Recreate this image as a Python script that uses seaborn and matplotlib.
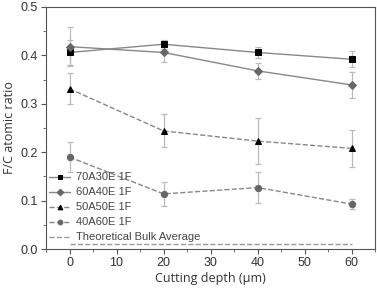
import numpy as np
import pandas as pd
import matplotlib
matplotlib.use("Agg")
import matplotlib.pyplot as plt
import seaborn as sns
from matplotlib.ticker import MultipleLocator

# data
depth = [0, 20, 40, 60]
labels = ["70A30E 1F", "60A40E 1F", "50A50E 1F", "40A60E 1F"]
ratio_70 = [0.406, 0.423, 0.406, 0.392]
err_70 = [0.025, 0.009, 0.012, 0.016]
ratio_60 = [0.418, 0.406, 0.368, 0.339]
err_60 = [0.040, 0.020, 0.016, 0.026]
ratio_50 = [0.331, 0.244, 0.223, 0.208]
err_50 = [0.032, 0.034, 0.047, 0.038]
ratio_40 = [0.190, 0.114, 0.127, 0.093]
err_40 = [0.031, 0.025, 0.032, 0.011]
bulk_x = [0, 60]
bulk_y = [0.011, 0.011]

sns.set_style("ticks")
plt.rcParams['font.family'] = ['Liberation Sans', 'DejaVu Sans']

fig = plt.figure(figsize=(3.77, 2.89), dpi=100)
ax = fig.add_axes([0.122, 0.138, 0.873, 0.838])

series = [
    (labels[0], ratio_70, err_70, "s", "black", "-"),
    (labels[1], ratio_60, err_60, "D", "#666666", "-"),
    (labels[2], ratio_50, err_50, "^", "black", "--"),
    (labels[3], ratio_40, err_40, "o", "#666666", "--"),
]

for name, vals, errs, mk, mcol, ls in series:
    df = pd.DataFrame({"depth": depth, "ratio": vals})
    ax.errorbar(depth, vals, yerr=errs, fmt="none", ecolor="#bbbbbb",
                elinewidth=0.9, capsize=2.5, capthick=0.9, zorder=1)
    sns.lineplot(data=df, x="depth", y="ratio", ax=ax, color="#888888",
                 linestyle=ls, linewidth=1.0, marker=mk, markersize=4.5,
                 markerfacecolor=mcol, markeredgecolor=mcol, label=name, zorder=3)

sns.lineplot(x=bulk_x, y=bulk_y, ax=ax, color="#999999", linestyle="--",
             linewidth=1.0, label="Theoretical Bulk Average")

ax.set_xlim(-5, 65)
ax.set_ylim(0, 0.5)
ax.xaxis.set_major_locator(MultipleLocator(10))
ax.xaxis.set_minor_locator(MultipleLocator(5))
ax.yaxis.set_major_locator(MultipleLocator(0.1))
ax.yaxis.set_minor_locator(MultipleLocator(0.05))
ax.tick_params(which="major", direction="out", length=3.5, width=0.8,
               labelsize=9, colors="#555555", labelcolor="#333333", pad=2.5)
ax.tick_params(which="minor", direction="out", length=2, width=0.6, colors="#555555")
for s in ax.spines.values():
    s.set_color("#555555")
    s.set_linewidth(0.8)

ax.set_xlabel("Cutting depth (μm)", family=["Open Sans", "DejaVu Sans"],
              fontsize=9, color="#333333", labelpad=2)
ax.set_ylabel("F/C atomic ratio", family=["Open Sans", "DejaVu Sans"],
              fontsize=9, color="#333333", labelpad=3)

leg = ax.legend(loc="lower left", frameon=False, fontsize=8, handlelength=1.9,
                handletextpad=0.5, labelspacing=0.45, borderaxespad=0.2,
                bbox_to_anchor=(-0.01, 0.0), markerscale=0.75)
for t in leg.get_texts():
    t.set_color("#444444")

fig.savefig("out.png", dpi=100)
